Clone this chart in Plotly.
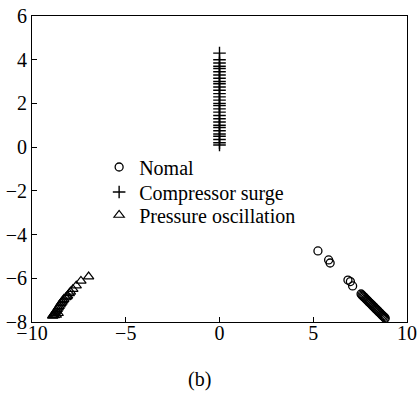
import plotly.graph_objects as go

# ---- data ----
nomal_x = [5.25, 5.82, 5.9, 6.85, 6.98, 7.1, 7.55, 7.6, 7.65, 7.7, 7.75, 7.8, 7.85, 7.9, 7.95,
           8.0, 8.05, 8.1, 8.15, 8.2, 8.25, 8.3, 8.35, 8.4, 8.45, 8.5, 8.55, 8.6, 8.65, 8.7,
           8.75, 8.8, 8.84]
nomal_y = [-4.75, -5.16, -5.3, -6.08, -6.15, -6.35, -6.72, -6.77, -6.81, -6.85, -6.89, -6.94,
           -6.98, -7.02, -7.07, -7.11, -7.15, -7.19, -7.24, -7.28, -7.32, -7.37, -7.41, -7.45,
           -7.49, -7.54, -7.58, -7.62, -7.67, -7.71, -7.75, -7.79, -7.83]

surge_x = [0.0] * 30
surge_y = [0.1, 0.2, 0.35, 0.5, 0.6, 0.75, 0.9, 1.0, 1.15, 1.3, 1.45, 1.6, 1.75, 1.9, 2.0,
           2.15, 2.3, 2.45, 2.6, 2.75, 2.9, 3.0, 3.15, 3.3, 3.45, 3.6, 3.7, 3.85, 4.0, 4.3]

osc_x = [-6.98, -7.39, -7.64, -7.82, -7.95, -8.01, -8.1, -8.14, -8.2, -8.3, -8.35, -8.4, -8.45,
         -8.5, -8.55, -8.6, -8.65, -8.7, -8.75, -8.8, -8.85, -8.88, -8.9, -8.8, -8.7, -8.6]
osc_y = [-5.92, -6.12, -6.34, -6.5, -6.62, -6.69, -6.8, -6.84, -6.88, -6.95, -7.01, -7.08,
         -7.14, -7.21, -7.28, -7.34, -7.41, -7.48, -7.54, -7.6, -7.66, -7.7, -7.72, -7.7,
         -7.68, -7.6]

x_ticks = [-10, -5, 0, 5, 10]
y_ticks = [-8, -6, -4, -2, 0, 2, 4, 6]

FONT = "Liberation Serif, Times New Roman, serif"

fig = go.Figure()
fig.add_trace(go.Scatter(x=nomal_x, y=nomal_y, mode="markers", name="Nomal", legend="legend",
                         showlegend=True,
                         marker=dict(symbol="circle-open", size=8, color="black",
                                     line=dict(width=1.3, color="black"))))
fig.add_trace(go.Scatter(x=surge_x, y=surge_y, mode="markers", name="Compressor surge",
                         legend="legend2", showlegend=True,
                         marker=dict(symbol="cross-thin-open", size=9, color="black",
                                     line=dict(width=1.4, color="black"))))
fig.add_trace(go.Scatter(x=osc_x, y=osc_y, mode="markers", name="Pressure oscillation",
                         legend="legend3", showlegend=True,
                         marker=dict(symbol="triangle-up-open", size=9, color="black",
                                     line=dict(width=1.2, color="black"))))

axis_common = dict(showgrid=False, zeroline=False, showline=True, linecolor="black",
                   linewidth=1, mirror=True, ticks="inside", ticklen=5, tickcolor="black",
                   automargin=False, ticklabeloverflow="allow",
                   tickfont=dict(family=FONT, size=20, color="black"))

fig.update_xaxes(range=[-10, 10], tickvals=x_ticks, ticklabelstandoff=-7, **axis_common)
fig.update_yaxes(range=[-8, 6], tickvals=y_ticks, **axis_common)

leg_common = dict(xanchor="left", yanchor="middle", bgcolor="rgba(0,0,0,0)", itemwidth=30,
                  font=dict(family=FONT, size=20, color="black"))

fig.update_layout(
    width=420, height=394,
    margin=dict(l=32, r=13, t=16, b=72),
    plot_bgcolor="white", paper_bgcolor="white",
    showlegend=True,
    font=dict(family=FONT, size=20, color="black"),
    legend=dict(x=0.179, y=0.5065, **leg_common),
    legend2=dict(x=0.179, y=0.4248, **leg_common),
    legend3=dict(x=0.179, y=0.3497, **leg_common),
    annotations=[dict(text="(b)", xref="paper", yref="paper", x=0.4467, y=-0.1895,
                      showarrow=False, xanchor="center", yanchor="middle",
                      font=dict(family=FONT, size=20, color="black"))],
)

# remove the default 8px page margin so the 420x394 figure fills the window exactly
fig.write_html("out.html", config={"displayModeBar": False},
               post_script="document.body.style.margin='0px';")
